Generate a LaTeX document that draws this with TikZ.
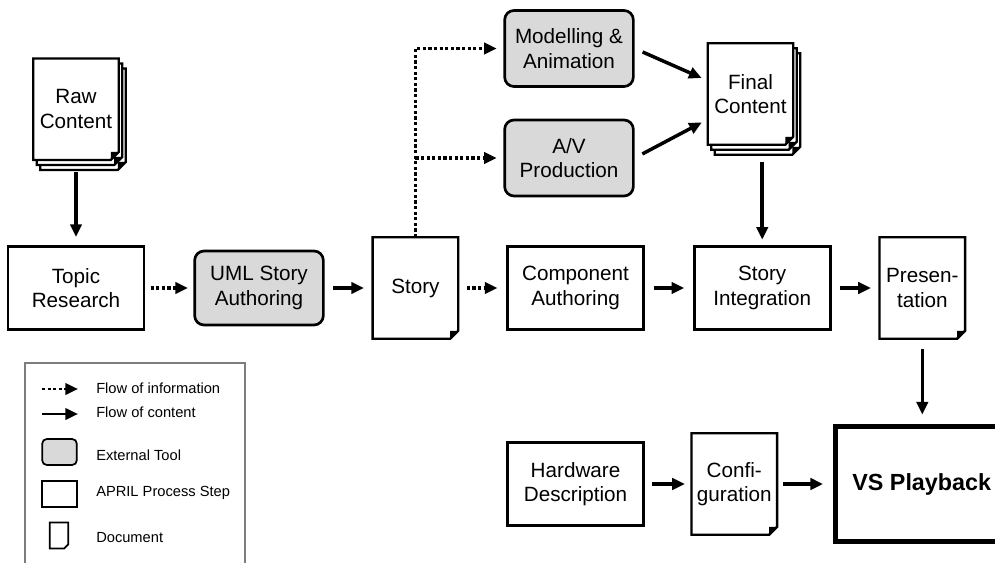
\documentclass[tikz,border=0pt]{standalone}
\usepackage{fontspec}
\setmainfont{Liberation Sans}
\usetikzlibrary{positioning}
\usetikzlibrary{arrows.meta}
\usetikzlibrary{backgrounds}
\definecolor{toolgray}{RGB}{217,217,217}
\definecolor{framegray}{RGB}{125,125,125}
\tikzset{node distance=36pt, % gap between the steps of one row
every node/.style={ % all box texts
font=\fontsize{15.5}{18.5}\selectfont,
align=center,
inner sep=0pt},
procstep/.style={ % APRIL process step
draw,
line width=2pt,
minimum width=102pt,
minimum height=62.5pt},
tool/.style={ % external tool
procstep,
fill=toolgray,
rounded corners=7pt,
minimum width=96.5pt,
minimum height=57pt},
doc/.style={minimum width=63.75pt, minimum height=75.75pt}, % document, outline drawn behind
docline/.style={line width=1.8pt, fill=white},
>={Triangle[length=9.5pt,width=8.5pt]},
content/.style={ % flow of content
->,
line width=2.6pt,
shorten <=6.5pt,
shorten >=6.5pt},
info/.style={ % flow of information
content,
dash pattern=on 2.4pt off 1.8pt},
legendtext/.style={font=\fontsize{11}{13}\selectfont, anchor=west}}

% page of a document with folded corner: node, x offset, y offset
\newcommand{\docsheet}[3]{%
\draw[docline] ([shift={(#2,#3)}]#1.north west) -- ([shift={(#2,#3)}]#1.north east)
  -- ([shift={(#2,#3+6pt)}]#1.south east) -- ([shift={(#2-6pt,#3)}]#1.south east)
  -- ([shift={(#2,#3)}]#1.south west) -- cycle;
\fill ([shift={(#2,#3+6pt)}]#1.south east) -- ([shift={(#2-6pt,#3)}]#1.south east)
  -- ([shift={(#2-6pt,#3+6pt)}]#1.south east) -- cycle;}

\begin{document}
\begin{tikzpicture}[x=0.75pt, y=-0.75pt]
                \useasboundingbox (0,0) rectangle (995,563);

                % main row
                \node[procstep] (topic) at (76,288) {Topic\\Research};
                \node[tool, minimum height=55.5pt, right = of topic] (uml) {UML Story\\Authoring};
                \node[doc, right = of uml] (story) {Story};
                \node[procstep, right = of story] (comp) {Component\\Authoring};
                \node[procstep, right = of comp] (integ) {Story\\Integration};
                \node[doc, right = of integ] (pres) {Presen-\\tation};

                \node[doc, above = 63.75pt of topic] (raw) {Raw\\Content};
                \node[tool] (model) at (569,48.5) {Modelling \&\\Animation};
                \node[tool] (av) at (569,158) {A/V\\Production};
                \node[doc] (final) at (750.5,94) {Final\\Content};

                % bottom row
                \node[procstep, below = 82.5pt of comp] (hw) {Hardware\\Description};
                \node[doc, right = 35pt of hw] (config) {Confi-\\guration};
                \node[draw, line width=4pt, minimum width=129pt, minimum height=86.25pt,
                      font=\fontsize{17.5}{20}\selectfont\bfseries, right = 42pt of config] (vs) {VS Playback};

                \begin{pgfonlayer}{background}
                \foreach \d in {raw,final}{
                    \docsheet{\d}{5.25pt}{-7.5pt}
                    \docsheet{\d}{2.6pt}{-3.75pt}}
                \foreach \d in {raw,story,final,pres,config}{
                    \docsheet{\d}{0pt}{0pt}}
                \end{pgfonlayer}

                \draw[content, shorten <=9pt, shorten >=6pt] (raw) -- (topic);
                \draw[info, shorten <=4pt, shorten >=4pt] (topic) -- (uml);
                \draw[content] (uml) -- (story);
                \draw[info] (story) -- (comp);
                \draw[content] (comp) -- (integ);
                \draw[content] (integ) -- (pres);
                \draw[info, shorten <=0pt, shorten >=5pt] (story.north) |- (model.west);
                \draw[info, shorten <=0pt, shorten >=5pt] (story.north |- av.west) -- (av.west);
                \draw[content, shorten >=5pt] (model.east) -- ([yshift=10pt]final.west);
                \draw[content, shorten >=5pt] (av.east) -- ([yshift=-19pt]final.west);
                \draw[content, shorten <=12.75pt, shorten >=4pt] (final.south -| integ.north) -- (integ.north);
                \draw[content, shorten <=7.5pt, shorten >=7pt] (pres.south) -- (pres.south |- vs.north);
                \draw[content, shorten <=5pt, shorten >=5pt] (hw) -- (config);
                \draw[content, shorten <=4.5pt, shorten >=7.5pt] (config) -- (vs);

                % legend
                \draw[framegray, line width=1.2pt] (25,563) |- (245,363) -- (245,563);
                \coordinate (infoa) at (42,389);
                \coordinate (infob) at (78,389);
                \coordinate (conta) at (42,414);
                \coordinate (contb) at (78,414);
                \draw[info, line width=2pt, shorten <=0pt, shorten >=0pt] (infoa) -- (infob);
                \draw[content, line width=2pt, shorten <=0pt, shorten >=0pt] (conta) -- (contb);
                \node[tool, minimum width=26pt, minimum height=19.5pt, rounded corners=3.5pt, line width=1.3pt] (keytool) at (59.5,452) {};
                \node[procstep, minimum width=26pt, minimum height=19.5pt, line width=1.3pt] (keystep) at (59.5,494) {};
                \node[minimum width=13.5pt, minimum height=19pt] (keydoc) at (59,535.5) {};
                \draw[line width=1.3pt] (keydoc.north west) -- (keydoc.north east) -- ([yshift=3pt]keydoc.south east)
                    -- ([xshift=-3pt]keydoc.south east) -- (keydoc.south west) -- cycle;
                \node[legendtext] (keyinfo) at (96,388) {Flow of information};
                \node[legendtext] (keycont) at (96,412) {Flow of content};
                \node[legendtext] (keytooltext) at (96,455) {External Tool};
                \node[legendtext] (keysteptext) at (96,493) {APRIL Process Step};
                \node[legendtext] (keydoctext) at (96,538) {Document};
            \end{tikzpicture}
\end{document}
